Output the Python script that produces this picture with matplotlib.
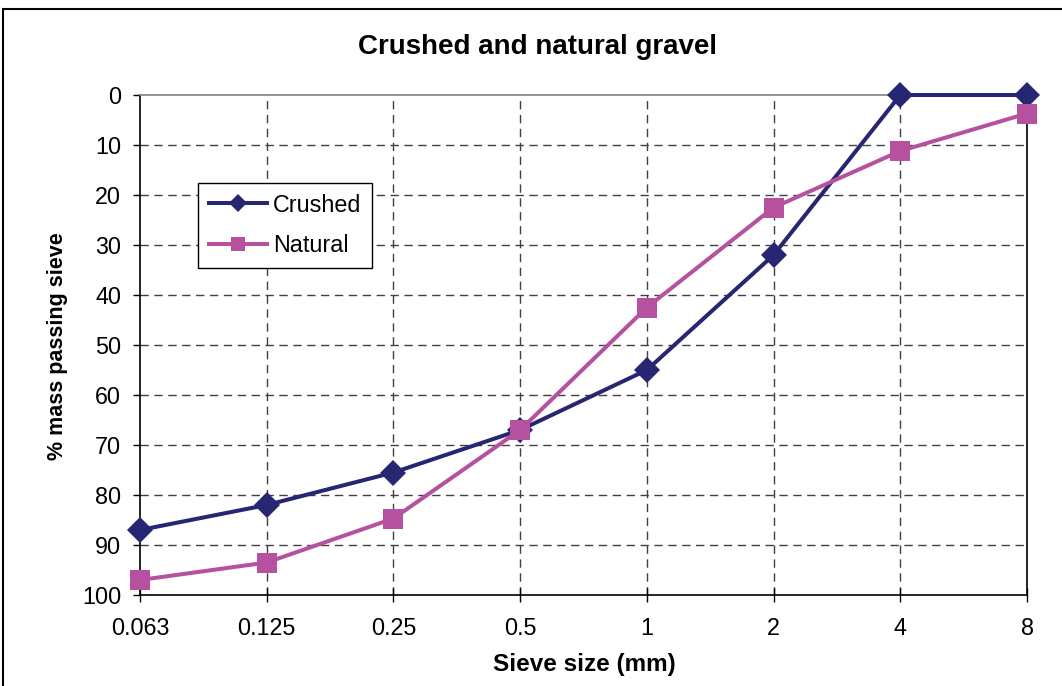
import numpy as np
import matplotlib
matplotlib.use("Agg")
import matplotlib.pyplot as plt
from matplotlib.patches import Rectangle

# sieve sizes (mm), plotted as evenly spaced categories
sieve_labels = ["0.063", "0.125", "0.25", "0.5", "1", "2", "4", "8"]

# % mass passing sieve
crushed = [87, 82, 75.5, 67, 55, 32, 0, 0]
natural = [97, 93.5, 84.7, 67, 42.5, 22.5, 11.2, 3.7]

y_ticks = [0, 10, 20, 30, 40, 50, 60, 70, 80, 90, 100]

NAVY = "#262672"
PINK = "#b5519f"


def plot():
    plt.rcParams["font.family"] = ["Liberation Sans", "DejaVu Sans"]

    W, H = 1062, 686
    fig = plt.figure(figsize=(W / 100, H / 100), dpi=100)

    # plot area in pixels: left 140, right 1027, top 95, bottom 595
    ax = fig.add_axes([140 / W, 1 - 595 / H, 887 / W, 500 / H])

    x = np.arange(len(sieve_labels))

    # dashed grid
    for xi in x[1:-1]:
        ax.axvline(xi, color="#404040", lw=1.0, ls=(0, (6, 4)), zorder=1)
    for yv in y_ticks[1:-1]:
        ax.axhline(yv, color="#404040", lw=1.0, ls=(0, (6, 4)), zorder=1)

    ax.plot(x, crushed, color=NAVY, lw=2.9, marker="D", ms=13.5,
            mew=0, label="Crushed", zorder=3, clip_on=False)
    ax.plot(x, natural, color=PINK, lw=2.9, marker="s", ms=14.4,
            mew=0, label="Natural", zorder=3, clip_on=False)

    ax.set_xlim(0, len(sieve_labels) - 1)
    ax.set_ylim(100, 0)
    ax.set_xticks(x)
    ax.set_xticklabels(sieve_labels)
    ax.set_yticks(y_ticks)

    ax.tick_params(axis="x", direction="inout", length=10, width=1,
                   pad=11, labelsize=16.8)
    ax.tick_params(axis="y", direction="out", length=4.8, width=1,
                   pad=8.7, labelsize=16.8)

    for side in ["left", "bottom", "right"]:
        ax.spines[side].set_color("black")
        ax.spines[side].set_linewidth(1.2)
    ax.spines["top"].set_color("#808080")
    ax.spines["top"].set_linewidth(1.2)

    fig.text(537 / W, 1 - 47 / H, "Crushed and natural gravel",
             ha="center", va="center", fontsize=20, fontweight="bold")
    fig.text(584 / W, 1 - 665 / H, "Sieve size (mm)",
             ha="center", va="center", fontsize=17.5, fontweight="bold")
    fig.text(57 / W, 1 - 346 / H, "% mass passing sieve", rotation=90,
             ha="center", va="center", fontsize=15.5, fontweight="bold")

    leg = ax.legend(loc="upper left", bbox_to_anchor=(198 / W, 1 - 183 / H),
                    bbox_transform=fig.transFigure, borderaxespad=0,
                    fontsize=16.8, handlelength=2.5, handletextpad=0.25,
                    labelspacing=0.75, borderpad=0.45, fancybox=False,
                    framealpha=1, edgecolor="black", markerscale=0.7)
    leg.get_frame().set_linewidth(1.0)

    # outer chart border
    fig.patches.append(Rectangle((3 / W, -0.05), 1.1, 1 - 9 / H + 0.05,
                                 transform=fig.transFigure, fill=False,
                                 edgecolor="black", lw=1.5))

    fig.savefig("out.png", dpi=100)
    plt.close(fig)


if __name__ == "__main__":
    plot()
